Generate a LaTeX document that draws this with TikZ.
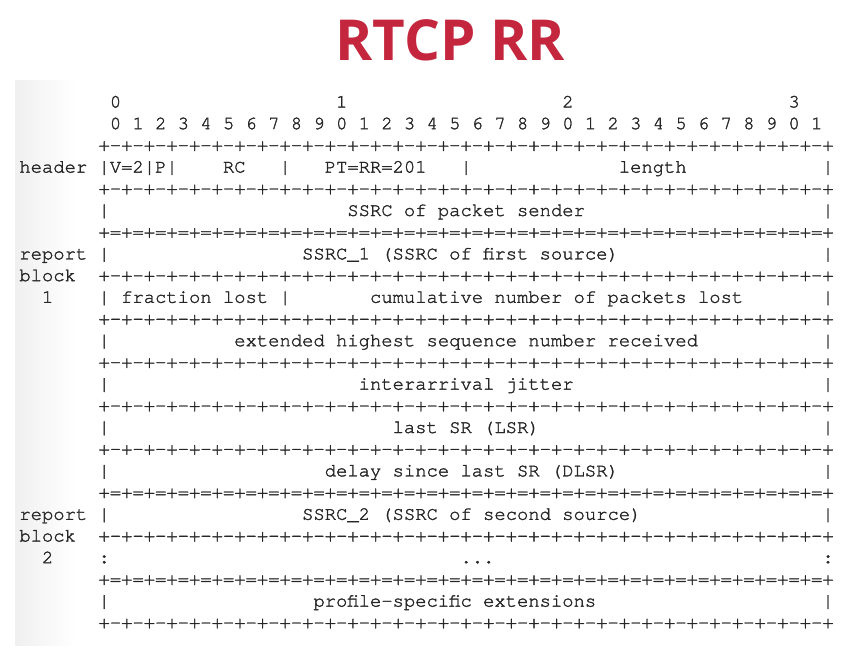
\documentclass[tikz,border=0pt]{standalone}
\usepackage{fontspec}
\setsansfont{Open Sans}
\setmonofont{texgyrecursor}[Extension=.otf, UprightFont=*-regular, BoldFont=*-bold, FakeBold=1.6]
\usetikzlibrary{positioning}

\definecolor{rtcpred}{RGB}{196,38,62}
% one ruler line of the packet: +-+-...+ or +=+=...+
\newcommand\ruleline[1]{\foreach\i in {1,...,32}{+#1}+}

\begin{document}
\begin{tikzpicture}[x=1pt, y=-1pt,
    cell/.style={anchor=base west, inner sep=0pt, text=black!85, font=\ttfamily\fontsize{18.85}{20}\selectfont},
    heading/.style={font=\sffamily\bfseries\fontsize{56.5}{60}\selectfont, text=rtcpred}]
    \useasboundingbox (0,0) rectangle (849,651);
    % faint edge of the slide panel
    \shade[left color=black!6, right color=white] (15,80) rectangle (75,645);
    \node[heading] (title) at (450,40) {RTCP RR};

    % character grid: one column per character, one row per line
    \begin{scope}[shift={(19.2,107.5)}, x=11.31pt, y=-21.7pt]
        % bit numbers
        \foreach \t in {0,1,2,3}
            \node[cell] (tens\t) at (8+20*\t,0) {\t};
        \foreach \k in {0,...,31} {
            \pgfmathtruncatemacro\b{mod(\k,10)}
            \node[cell] (bit\k) at (8+2*\k,1) {\b};
        }

        % ruler lines
        \foreach \r in {2,4,8,10,12,14,16,20,24}
            \node[cell] (rule\r) at (7,\r) {\ruleline{-}};
        \foreach \r in {6,18,22}
            \node[cell] (rule\r) at (7,\r) {\ruleline{=}};

        % side labels
        \node[cell] (header) at (0,3) {header};
        \node[cell] (report1) at (0,7) {report};
        \node[cell] (block1) at (0,8) {block};
        \node[cell] (num1) at (2,9) {1};
        \node[cell] (report2) at (0,19) {report};
        \node[cell] (block2) at (0,20) {block};
        \node[cell] (num2) at (2,21) {2};

        % header word
        \foreach \c in {7,11,13,23,39,71}
            \node[cell] (hbar\c) at (\c,3) {|};
        \node[cell] (version) at (8,3) {V=2};
        \node[cell] (padding) at (12,3) {P};
        \node[cell] (count) at (18,3) {RC};
        \node[cell] (type) at (27,3) {PT=RR=201};
        \node[cell] (length) at (53,3) {length};

        % full-width words
        \foreach \r in {5,7,9,11,13,15,17,19,23} {
            \node[cell] (lbar\r) at (7,\r) {|};
            \node[cell] (rbar\r) at (71,\r) {|};
        }
        \node[cell] (mbar9) at (23,9) {|};
        \foreach \r/\c/\txt in {5/29/SSRC of packet sender,
                                7/25/SSRC\_1 (SSRC of first source),
                                9/9/fraction lost,
                                9/31/cumulative number of packets lost,
                                11/19/extended highest sequence number received,
                                13/30/interarrival jitter,
                                15/33/last SR (LSR),
                                17/27/delay since last SR (DLSR),
                                19/25/SSRC\_2 (SSRC of second source),
                                23/26/profile-specific extensions}
            \node[cell] (field\r-\c) at (\c,\r) {\txt};

        % elided report blocks
        \node[cell] (lcolon) at (7,21) {:};
        \node[cell] (rcolon) at (71,21) {:};
        \node[cell] (more) at (39,21) {...};
    \end{scope}
\end{tikzpicture}
\end{document}
